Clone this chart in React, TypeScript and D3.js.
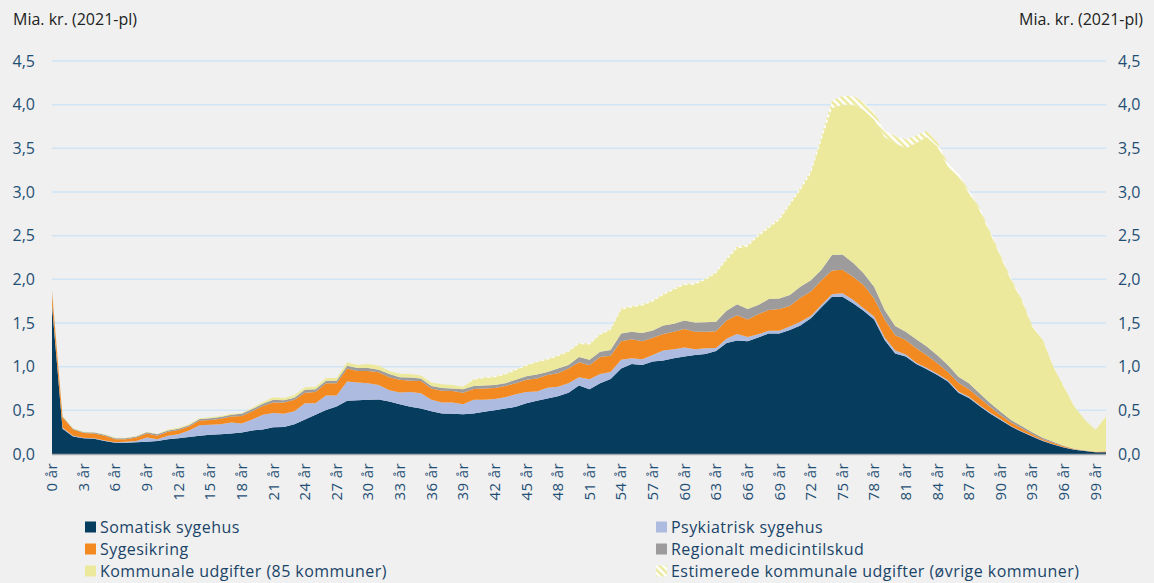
import React, { useEffect, useRef } from "react";
import * as d3 from "d3";

// Alder 0-100 år
const AGES = d3.range(0, 101);
const TICK_AGES = d3.range(0, 100, 3);
const Y_TICKS = [0, 0.5, 1, 1.5, 2, 2.5, 3, 3.5, 4, 4.5];

// Mia. kr. (2021-pl) per alderstrin
const SOMATISK = [
  1.7, 0.29, 0.2, 0.18, 0.175, 0.15, 0.13, 0.13, 0.135, 0.14,
  0.15, 0.17, 0.18, 0.195, 0.21, 0.22, 0.225, 0.235, 0.245, 0.27,
  0.28, 0.305, 0.31, 0.34, 0.395, 0.45, 0.505, 0.545, 0.61, 0.615,
  0.62, 0.625, 0.6, 0.57, 0.54, 0.52, 0.49, 0.465, 0.46, 0.455,
  0.465, 0.485, 0.5, 0.52, 0.54, 0.58, 0.61, 0.635, 0.66, 0.7,
  0.785, 0.74, 0.81, 0.86, 0.98, 1.03, 1.02, 1.06, 1.07, 1.095,
  1.115, 1.135, 1.145, 1.18, 1.27, 1.3, 1.29, 1.335, 1.38, 1.38,
  1.42, 1.47, 1.555, 1.68, 1.8, 1.8, 1.725, 1.64, 1.54, 1.305,
  1.15, 1.115, 1.03, 0.97, 0.905, 0.83, 0.7, 0.64, 0.55, 0.465,
  0.39, 0.315, 0.255, 0.2, 0.15, 0.11, 0.075, 0.05, 0.035, 0.02,
  0.02,
];
const PSYKIATRISK = [
  0.02, 0.01, 0.01, 0.005, 0.005, 0.005, 0.005, 0.01, 0.015, 0.05,
  0.02, 0.04, 0.045, 0.075, 0.12, 0.115, 0.115, 0.125, 0.105, 0.125,
  0.17, 0.165, 0.15, 0.15, 0.185, 0.13, 0.165, 0.125, 0.22, 0.205,
  0.19, 0.165, 0.13, 0.135, 0.17, 0.175, 0.13, 0.125, 0.13, 0.115,
  0.155, 0.135, 0.13, 0.13, 0.145, 0.13, 0.105, 0.125, 0.11, 0.11,
  0.095, 0.115, 0.105, 0.08, 0.1, 0.065, 0.065, 0.075, 0.115, 0.105,
  0.105, 0.065, 0.065, 0.035, 0.05, 0.075, 0.05, 0.035, 0.03, 0.03,
  0.04, 0.045, 0.025, 0.025, 0.03, 0.04, 0.04, 0.03, 0.035, 0.03,
  0.035, 0.025, 0.015, 0.015, 0.015, 0.015, 0.015, 0.015, 0.012, 0.01,
  0.01, 0.007, 0.005, 0.005, 0.004, 0.003, 0.002, 0.001, 0.001, 0.001,
  0.001,
];
const SYGESIKRING = [
  0.13, 0.12, 0.07, 0.055, 0.055, 0.055, 0.035, 0.03, 0.04, 0.045,
  0.04, 0.045, 0.05, 0.045, 0.055, 0.055, 0.065, 0.07, 0.085, 0.095,
  0.1, 0.12, 0.13, 0.13, 0.12, 0.13, 0.14, 0.14, 0.15, 0.13,
  0.14, 0.145, 0.15, 0.145, 0.13, 0.14, 0.13, 0.135, 0.13, 0.13,
  0.125, 0.13, 0.125, 0.13, 0.125, 0.14, 0.15, 0.145, 0.155, 0.17,
  0.17, 0.16, 0.195, 0.185, 0.21, 0.22, 0.205, 0.195, 0.19, 0.2,
  0.21, 0.2, 0.19, 0.19, 0.21, 0.215, 0.2, 0.23, 0.24, 0.25,
  0.235, 0.275, 0.28, 0.285, 0.27, 0.27, 0.265, 0.265, 0.205, 0.205,
  0.175, 0.165, 0.165, 0.145, 0.12, 0.095, 0.1, 0.085, 0.078, 0.065,
  0.045, 0.038, 0.035, 0.025, 0.016, 0.017, 0.013, 0.005, 0.004, 0.004,
  0.009,
];
const MEDICINTILSKUD = [
  0.02, 0.01, 0.01, 0.01, 0.01, 0.01, 0.01, 0.01, 0.01, 0.015,
  0.015, 0.015, 0.015, 0.015, 0.015, 0.02, 0.02, 0.02, 0.025, 0.025,
  0.025, 0.03, 0.025, 0.025, 0.035, 0.03, 0.03, 0.03, 0.03, 0.035,
  0.035, 0.03, 0.035, 0.03, 0.035, 0.03, 0.03, 0.03, 0.03, 0.04,
  0.035, 0.035, 0.035, 0.03, 0.04, 0.04, 0.045, 0.035, 0.055, 0.04,
  0.06, 0.065, 0.06, 0.065, 0.09, 0.085, 0.095, 0.085, 0.095, 0.09,
  0.1, 0.105, 0.11, 0.11, 0.11, 0.125, 0.12, 0.105, 0.125, 0.12,
  0.125, 0.125, 0.13, 0.12, 0.18, 0.175, 0.16, 0.135, 0.135, 0.11,
  0.105, 0.095, 0.105, 0.1, 0.09, 0.08, 0.07, 0.07, 0.055, 0.045,
  0.04, 0.03, 0.025, 0.02, 0.015, 0.01, 0.005, 0.004, 0.002, 0.002,
  0.002,
];
const KOMMUNALE = [
  0.01, 0.01, 0.005, 0.005, 0.005, 0.005, 0.005, 0.005, 0.005, 0.005,
  0.005, 0.01, 0.01, 0.01, 0.01, 0.01, 0.01, 0.01, 0.01, 0.015,
  0.02, 0.03, 0.025, 0.03, 0.03, 0.03, 0.03, 0.03, 0.04, 0.035,
  0.045, 0.045, 0.035, 0.04, 0.04, 0.035, 0.04, 0.045, 0.04, 0.03,
  0.07, 0.085, 0.09, 0.1, 0.11, 0.12, 0.14, 0.14, 0.14, 0.15,
  0.15, 0.175, 0.195, 0.23, 0.275, 0.28, 0.315, 0.33, 0.35, 0.39,
  0.405, 0.435, 0.485, 0.555, 0.58, 0.64, 0.715, 0.785, 0.81, 0.9,
  1.03, 1.105, 1.225, 1.485, 1.68, 1.715, 1.81, 1.87, 1.915, 1.98,
  2.095, 2.1, 2.245, 2.4, 2.39, 2.27, 2.29, 2.175, 2.1, 1.945,
  1.775, 1.6, 1.44, 1.21, 1.12, 0.86, 0.675, 0.48, 0.348, 0.248,
  0.398,
];
const ESTIMEREDE = [
  0, 0, 0, 0, 0, 0, 0, 0, 0, 0,
  0, 0, 0, 0, 0, 0, 0, 0, 0, 0,
  0, 0, 0, 0, 0, 0, 0, 0, 0, 0,
  0, 0, 0, 0, 0, 0, 0, 0, 0, 0,
  0.01, 0.01, 0.01, 0.01, 0.01, 0.01, 0.01, 0.01, 0.01, 0.01,
  0.01, 0.01, 0.01, 0.01, 0.015, 0.015, 0.015, 0.015, 0.015, 0.015,
  0.015, 0.015, 0.015, 0.015, 0.02, 0.02, 0.02, 0.02, 0.02, 0.02,
  0.02, 0.03, 0.03, 0.05, 0.09, 0.1, 0.1, 0.09, 0.08, 0.07,
  0.08, 0.1, 0.09, 0.07, 0.05, 0.04, 0.04, 0.03, 0.03, 0.02,
  0.02, 0.02, 0.015, 0.015, 0.01, 0.005, 0.005, 0.005, 0.005, 0.005,
  0,
];

const SERIES = [
  { key: "somatisk", label: "Somatisk sygehus", values: SOMATISK, color: "#063d5f" },
  { key: "psykiatrisk", label: "Psykiatrisk sygehus", values: PSYKIATRISK, color: "#aebbe0" },
  { key: "sygesikring", label: "Sygesikring", values: SYGESIKRING, color: "#f28a21" },
  { key: "medicin", label: "Regionalt medicintilskud", values: MEDICINTILSKUD, color: "#9d9b9b" },
  { key: "kommunale", label: "Kommunale udgifter (85 kommuner)", values: KOMMUNALE, color: "#ece99d" },
  { key: "estimerede", label: "Estimerede kommunale udgifter (øvrige kommuner)", values: ESTIMEREDE, color: "url(#hatch)" },
];

const WIDTH = 1154;
const HEIGHT = 583;
const PLOT = { LEFT: 52, RIGHT: 1106, TOP: 61, BOTTOM: 454 };
const FONT = "'Open Sans', sans-serif";
const AXIS_COLOR = "#1f4f74";

const Chart = () => {
  const svgRef = useRef<SVGSVGElement>(null);

  useEffect(() => {
    const svg = d3.select(svgRef.current);
    svg.selectAll("*").remove();
    svg.style("font-family", FONT);

    svg.append("rect").attr("width", WIDTH).attr("height", HEIGHT).attr("fill", "#f0f0f0");

    const defs = svg.append("defs");
    const pattern = defs
      .append("pattern")
      .attr("id", "hatch")
      .attr("patternUnits", "userSpaceOnUse")
      .attr("width", 5)
      .attr("height", 5)
      .attr("patternTransform", "rotate(-45)");
    pattern.append("rect").attr("width", 5).attr("height", 5).attr("fill", "#ffffff");
    pattern.append("rect").attr("width", 2.5).attr("height", 5).attr("fill", "#ece99d");

    const rows = AGES.map((age, i) => {
      const row: Record<string, number> = { age };
      SERIES.forEach((s) => (row[s.key] = s.values[i]));
      return row;
    });

    const stack = d3.stack<Record<string, number>>().keys(SERIES.map((s) => s.key));
    const stacked = stack(rows);

    const x = d3.scaleLinear().domain([0, 100]).range([PLOT.LEFT, PLOT.RIGHT]);
    const y = d3.scaleLinear().domain([0, 4.5]).range([PLOT.BOTTOM, PLOT.TOP]);

    // gitterlinjer
    svg
      .append("g")
      .selectAll("line")
      .data(Y_TICKS.filter((t) => t > 0))
      .join("line")
      .attr("x1", PLOT.LEFT)
      .attr("x2", PLOT.RIGHT)
      .attr("y1", (d) => y(d))
      .attr("y2", (d) => y(d))
      .attr("stroke", "#cfe5f6")
      .attr("stroke-width", 1.5);

    const area = d3
      .area<d3.SeriesPoint<Record<string, number>>>()
      .x((d) => x(d.data.age))
      .y0((d) => y(d[0]))
      .y1((d) => y(d[1]));

    svg
      .append("g")
      .selectAll("path")
      .data(stacked)
      .join("path")
      .attr("d", area)
      .attr("fill", (d, i) => SERIES[i].color);

    // x-akse linje
    svg
      .append("line")
      .attr("x1", PLOT.LEFT)
      .attr("x2", PLOT.RIGHT)
      .attr("y1", PLOT.BOTTOM + 0.5)
      .attr("y2", PLOT.BOTTOM + 0.5)
      .attr("stroke", "#a3a7ab")
      .attr("stroke-width", 1.5);

    // y-akser venstre og højre
    const fmt = (d: number) => d.toFixed(1).replace(".", ",");
    svg
      .append("g")
      .selectAll("text")
      .data(Y_TICKS)
      .join("text")
      .attr("x", 35)
      .attr("y", (d) => y(d))
      .attr("dy", "0.35em")
      .attr("text-anchor", "end")
      .attr("font-size", 16)
      .attr("fill", AXIS_COLOR)
      .text(fmt);
    svg
      .append("g")
      .selectAll("text")
      .data(Y_TICKS)
      .join("text")
      .attr("x", 1118)
      .attr("y", (d) => y(d))
      .attr("dy", "0.35em")
      .attr("text-anchor", "start")
      .attr("font-size", 16)
      .attr("fill", AXIS_COLOR)
      .text(fmt);

    // x-akse etiketter
    svg
      .append("g")
      .selectAll("text")
      .data(TICK_AGES)
      .join("text")
      .attr("transform", (d) => `translate(${x(d)},${PLOT.BOTTOM + 9}) rotate(-90)`)
      .attr("dy", "0.35em")
      .attr("text-anchor", "end")
      .attr("font-size", 15)
      .attr("letter-spacing", 0.4)
      .attr("fill", AXIS_COLOR)
      .text((d) => `${d} år`);

    // enhed
    svg
      .append("text")
      .attr("x", 13)
      .attr("y", 25)
      .attr("font-size", 16)
      .attr("fill", "#222")
      .text("Mia. kr. (2021-pl)");
    svg
      .append("text")
      .attr("x", 1143)
      .attr("y", 25)
      .attr("text-anchor", "end")
      .attr("font-size", 16)
      .attr("fill", "#222")
      .text("Mia. kr. (2021-pl)");

    // forklaring
    const legend = svg
      .append("g")
      .selectAll("g")
      .data(SERIES)
      .join("g")
      .attr("transform", (d, i) => `translate(${i % 2 === 0 ? 85 : 656},${527 + Math.floor(i / 2) * 22})`);
    legend
      .append("rect")
      .attr("y", -5.5)
      .attr("width", 11)
      .attr("height", 11)
      .attr("fill", (d) => d.color);
    legend
      .append("text")
      .attr("x", 15)
      .attr("dy", "0.35em")
      .attr("font-size", 16)
      .attr("letter-spacing", 0.45)
      .attr("fill", "#1a4468")
      .text((d) => d.label);
  }, []);

  return <svg ref={svgRef} width={WIDTH} height={HEIGHT} style={{ display: "block" }}></svg>;
};

export default function App() {
  return (
    <div style={{ position: "absolute", left: 0, top: 0 }}>
      <Chart />
    </div>
  );
}
